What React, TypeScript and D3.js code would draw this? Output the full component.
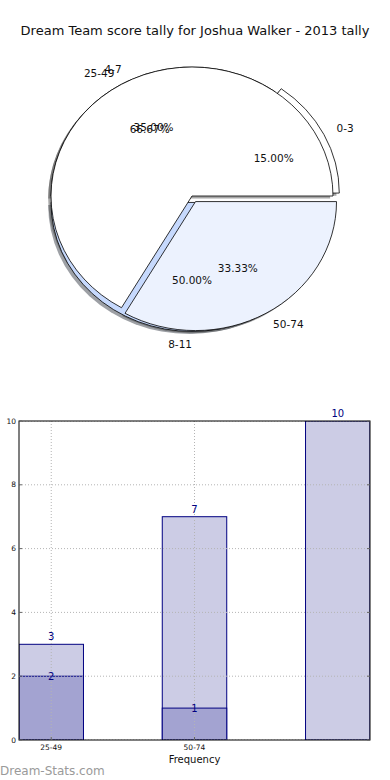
import React, { useEffect, useRef } from 'react';
import * as d3 from 'd3';

// pie layer 1 (drawn underneath)
const pieLabelsA = ['0-3', '4-7', '8-11'];
const pieValuesA = [15, 35, 50];
const pieColorsA = ['#ffffff', '#ffffff', '#c6d9fd'];
const pieExplodeA = [0.05, 0, 0.05];

// pie layer 2 (drawn on top)
const pieLabelsB = ['25-49', '50-74'];
const pieValuesB = [66.67, 33.33];
const pieColorsB = ['#ffffff', '#ecf2fe'];
const pieExplodeB = [0, 0.05];

// bar chart
const barCategories = ['25-49', '50-74', '75-99'];
const barBack = [3, 7, 10];
const barFront = [2, 1, 0];
const xTickLabels = ['25-49', '50-74'];
const yTicks = [0, 2, 4, 6, 8, 10];

const FONT = 'DejaVu Sans, sans-serif';

const App = () => {
  const ref = useRef<SVGSVGElement>(null);

  useEffect(() => {
    const svg = d3.select(ref.current);
    svg.selectAll('*').remove();

    // title
    svg.append('text')
      .attr('x', 195)
      .attr('y', 35)
      .attr('text-anchor', 'middle')
      .attr('font-family', FONT)
      .attr('font-size', 13)
      .attr('fill', '#111')
      .text('Dream Team score tally for Joshua Walker - 2013 tally');

    // ---- pie ----
    const cx = 192, cy = 196, rx = 141, ry = 129;
    const pie = d3.pie<number>().sort(null).startAngle(Math.PI / 2).endAngle(Math.PI / 2 - 2 * Math.PI);
    const arc = d3.arc<d3.PieArcDatum<number>>().innerRadius(0).outerRadius(1);

    const layers = [
      { arcs: pie(pieValuesA), labels: pieLabelsA, colors: pieColorsA, explode: pieExplodeA },
      { arcs: pie(pieValuesB), labels: pieLabelsB, colors: pieColorsB, explode: pieExplodeB },
    ];

    const offset = (a: d3.PieArcDatum<number>, k: number) => {
      const m = (a.startAngle + a.endAngle) / 2;
      return [rx * k * Math.sin(m), -ry * k * Math.cos(m)];
    };

    const pieG = svg.append('g');

    // shadows under everything
    layers.forEach(layer => {
      layer.arcs.forEach((a, i) => {
        const [dx, dy] = offset(a, layer.explode[i]);
        const c = d3.rgb(layer.colors[i]);
        pieG.append('path')
          .attr('d', arc(a))
          .attr('transform', `translate(${cx + dx - 0.02 * rx},${cy + dy + 0.02 * ry}) scale(${rx},${ry})`)
          .attr('fill', d3.rgb(c.r * 0.3, c.g * 0.3, c.b * 0.3).toString())
          .attr('opacity', 0.5);
      });
    });

    layers.forEach(layer => {
      layer.arcs.forEach((a, i) => {
        const [dx, dy] = offset(a, layer.explode[i]);
        pieG.append('path')
          .attr('d', arc(a))
          .attr('transform', `translate(${cx + dx},${cy + dy}) scale(${rx},${ry})`)
          .attr('fill', layer.colors[i])
          .attr('stroke', '#000')
          .attr('stroke-width', 0.8)
          .attr('vector-effect', 'non-scaling-stroke');
      });
    });

    layers.forEach(layer => {
      layer.arcs.forEach((a, i) => {
        const [dx, dy] = offset(a, layer.explode[i]);
        const [lx, ly] = offset(a, 1.1);
        const [px, py] = offset(a, 0.6);
        const pct = (a.value / d3.sum(layer.arcs, d => d.value)) * 100;
        pieG.append('text')
          .attr('x', cx + dx + lx)
          .attr('y', cy + dy + ly)
          .attr('dy', '0.35em')
          .attr('text-anchor', lx > 0.5 ? 'start' : 'end')
          .attr('font-family', FONT)
          .attr('font-size', 10.5)
          .attr('fill', '#111')
          .text(layer.labels[i]);
        pieG.append('text')
          .attr('x', cx + dx + px)
          .attr('y', cy + dy + py)
          .attr('dy', '0.35em')
          .attr('text-anchor', 'middle')
          .attr('font-family', FONT)
          .attr('font-size', 10.5)
          .attr('fill', '#111')
          .text(pct.toFixed(2) + '%');
      });
    });

    // ---- bar chart ----
    const left = 19, right = 370, top = 421, bottom = 740;
    const barW = 0.45;
    const x = d3.scaleLinear()
      .domain([-barW / 2, barCategories.length - 1 + barW / 2])
      .range([left, right]);
    const y = d3.scaleLinear().domain([0, 10]).range([bottom, top]);

    const barG = svg.append('g');
    barG.append('defs').append('clipPath').attr('id', 'plot-clip')
      .append('rect')
      .attr('x', left).attr('y', top)
      .attr('width', right - left).attr('height', bottom - top);
    const plot = barG.append('g').attr('clip-path', 'url(#plot-clip)');

    barCategories.forEach((c, i) => {
      plot.append('rect')
        .attr('x', x(i - barW / 2))
        .attr('y', y(barBack[i]))
        .attr('width', x(barW) - x(0))
        .attr('height', y(0) - y(barBack[i]))
        .attr('fill', '#ccccE5')
        .attr('stroke', '#000080')
        .attr('stroke-width', 1);
      if (barFront[i] > 0) {
        plot.append('rect')
          .attr('x', x(i - barW / 2))
          .attr('y', y(barFront[i]))
          .attr('width', x(barW) - x(0))
          .attr('height', y(0) - y(barFront[i]))
          .attr('fill', '#a3a3d1')
          .attr('stroke', '#000080')
          .attr('stroke-width', 1);
      }
    });

    // grid (dotted, over bars)
    yTicks.forEach(t => {
      plot.append('line')
        .attr('x1', left).attr('x2', right)
        .attr('y1', y(t)).attr('y2', y(t))
        .attr('stroke', '#b4b4b4')
        .attr('stroke-width', 1)
        .attr('stroke-dasharray', '1,2');
    });
    xTickLabels.forEach((_, i) => {
      plot.append('line')
        .attr('x1', x(i)).attr('x2', x(i))
        .attr('y1', top).attr('y2', bottom)
        .attr('stroke', '#b4b4b4')
        .attr('stroke-width', 1)
        .attr('stroke-dasharray', '1,2');
    });

    // frame
    barG.append('rect')
      .attr('x', left).attr('y', top)
      .attr('width', right - left).attr('height', bottom - top)
      .attr('fill', 'none')
      .attr('stroke', '#000')
      .attr('stroke-width', 1);

    // y ticks
    yTicks.forEach(t => {
      barG.append('line')
        .attr('x1', left).attr('x2', left + 3)
        .attr('y1', y(t)).attr('y2', y(t))
        .attr('stroke', '#666');
      barG.append('line')
        .attr('x1', right - 3).attr('x2', right)
        .attr('y1', y(t)).attr('y2', y(t))
        .attr('stroke', '#666');
      barG.append('text')
        .attr('x', left - 3)
        .attr('y', y(t))
        .attr('dy', '0.35em')
        .attr('text-anchor', 'end')
        .attr('font-family', FONT)
        .attr('font-size', 7.5)
        .attr('fill', '#111')
        .text(t);
    });

    // x ticks
    xTickLabels.forEach((l, i) => {
      barG.append('line')
        .attr('x1', x(i)).attr('x2', x(i))
        .attr('y1', bottom).attr('y2', bottom - 3)
        .attr('stroke', '#666');
      barG.append('text')
        .attr('x', x(i))
        .attr('y', bottom + 10)
        .attr('text-anchor', 'middle')
        .attr('font-family', FONT)
        .attr('font-size', 7.5)
        .attr('fill', '#111')
        .text(l);
    });

    // value labels
    barCategories.forEach((_, i) => {
      barG.append('text')
        .attr('x', x(i))
        .attr('y', y(barBack[i]) - 4)
        .attr('text-anchor', 'middle')
        .attr('font-family', FONT)
        .attr('font-size', 10)
        .attr('fill', '#000080')
        .text(barBack[i]);
      if (barFront[i] > 0) {
        barG.append('text')
          .attr('x', x(i))
          .attr('y', y(barFront[i]) + 4)
          .attr('text-anchor', 'middle')
          .attr('font-family', FONT)
          .attr('font-size', 10)
          .attr('fill', '#000080')
          .text(barFront[i]);
      }
    });

    // axis labels
    barG.append('text')
      .attr('x', x(1))
      .attr('y', 763)
      .attr('text-anchor', 'middle')
      .attr('font-family', FONT)
      .attr('font-size', 10)
      .attr('fill', '#111')
      .text('Frequency');

    barG.append('text')
      .attr('transform', `translate(-4,${(top + bottom) / 2}) rotate(-90)`)
      .attr('text-anchor', 'middle')
      .attr('font-family', FONT)
      .attr('font-size', 10)
      .attr('fill', '#111')
      .text('Times Scored');

    // watermark
    svg.append('text')
      .attr('x', 0)
      .attr('y', 775)
      .attr('font-family', FONT)
      .attr('font-size', 12)
      .attr('fill', '#9a9a9a')
      .text('Dream-Stats.com');
  }, []);

  return (
    <svg
      ref={ref}
      width={390}
      height={780}
      style={{ position: 'absolute', left: 0, top: 0, background: '#fff' }}
    />
  );
};

export default App;
